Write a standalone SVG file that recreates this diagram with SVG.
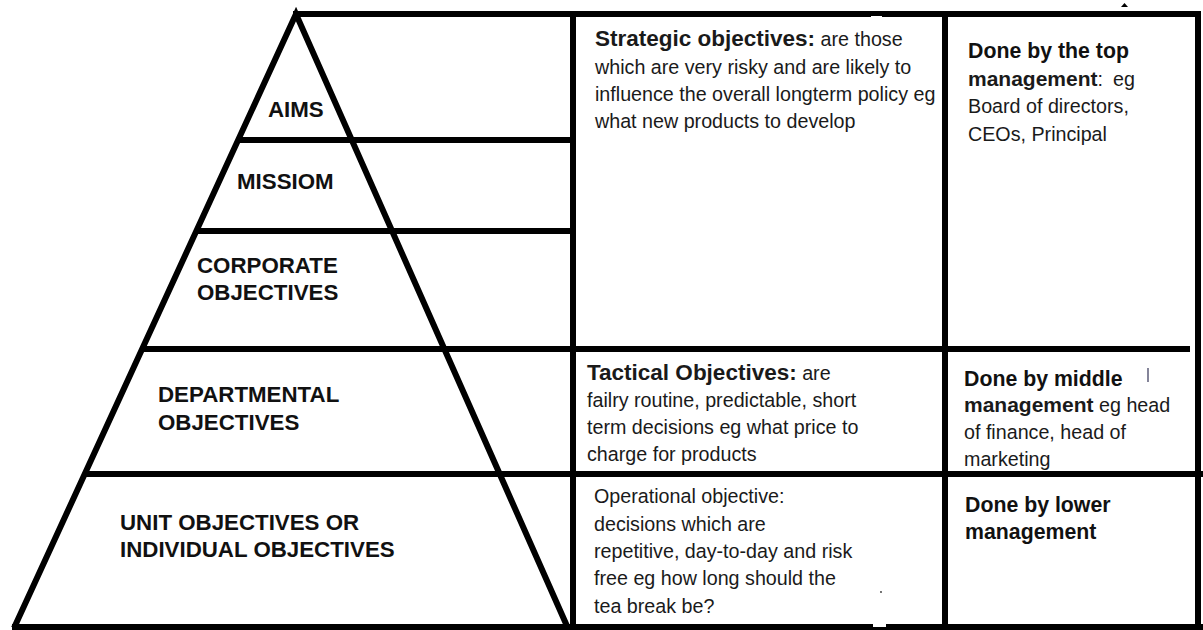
<svg xmlns="http://www.w3.org/2000/svg" width="1203" height="630" viewBox="0 0 1203 630">
<style>
.ln{stroke:#000;stroke-width:6;fill:none;stroke-linecap:butt;stroke-linejoin:miter}
.lvl{font-family:"Liberation Sans",Arial,sans-serif;font-weight:bold;font-size:22.3px;fill:#111}
.tx{font-family:"Liberation Sans",Arial,sans-serif;font-size:19.7px;fill:#1a1a1a}
.b{font-weight:bold}
.ch{font-weight:bold;font-size:22.5px}
.hd{font-family:"Liberation Sans",Arial,sans-serif;font-size:21.3px;font-weight:bold;fill:#111}
</style>
<rect width="1203" height="630" fill="#fff"/>
<g id="connectors">
  <path class="ln" d="M14,628 L296,14 L567,626"/>
  <path class="ln" d="M293,14 L1201,14"/>
  <path class="ln" d="M238,140 L573,140"/>
  <path class="ln" d="M196,231 L573,231"/>
  <path class="ln" d="M141,349 L1190,349" stroke-linecap="round"/>
  <path class="ln" d="M86,474 L1203,474"/>
  <path class="ln" d="M12,627 L1203,627"/>
  <path class="ln" d="M573,14 L573,630"/>
  <path class="ln" d="M945,14 L945,630"/>
  <path class="ln" d="M1198,11 L1198,630"/>
</g>
<g id="marks">
  <rect x="871" y="16" width="11" height="5" fill="#fff"/>
  <rect x="876" y="352" width="12" height="4" fill="#fff"/>
  <rect x="873" y="623" width="13" height="4" fill="#fff"/>
  <path d="M1121,7 L1124.5,3 L1128,7 Z" fill="#000"/>
  <circle cx="881" cy="592" r="0.9" fill="#333"/>
  <line x1="1148" y1="368" x2="1148" y2="382" stroke="#335" stroke-width="1.2"/>
</g>
<g id="level-aims"><text class="lvl" x="268" y="117">AIMS</text></g>
<g id="level-mission"><text class="lvl" x="237" y="189">MISSIOM</text></g>
<g id="level-corporate"><text class="lvl" x="197" y="273">CORPORATE</text><text class="lvl" x="197" y="300">OBJECTIVES</text></g>
<g id="level-departmental"><text class="lvl" x="158" y="402">DEPARTMENTAL</text><text class="lvl" x="158" y="430">OBJECTIVES</text></g>
<g id="level-unit"><text class="lvl" x="120" y="530">UNIT OBJECTIVES OR</text><text class="lvl" x="120" y="557">INDIVIDUAL OBJECTIVES</text></g>
<g id="strategic">
  <text class="tx" x="595" y="46"><tspan class="ch">Strategic objectives:</tspan> are those</text>
  <text class="tx" x="595" y="74">which are very risky and are likely to</text>
  <text class="tx" x="595" y="101">influence the overall longterm policy eg</text>
  <text class="tx" x="595" y="128">what new products to develop</text>
</g>
<g id="top-management">
  <text class="hd" x="968" y="58">Done by the top</text>
  <text class="tx" x="968" y="86"><tspan class="b" font-size="21">management</tspan>:<tspan dx="10">eg</tspan></text>
  <text class="tx" x="968" y="113">Board of directors,</text>
  <text class="tx" x="968" y="141">CEOs, Principal</text>
</g>
<g id="tactical">
  <text class="tx" x="587" y="380"><tspan class="ch">Tactical Objectives:</tspan> are</text>
  <text class="tx" x="587" y="407">failry routine, predictable, short</text>
  <text class="tx" x="587" y="434">term decisions eg what price to</text>
  <text class="tx" x="587" y="461">charge for products</text>
</g>
<g id="middle-management">
  <text class="hd" x="964" y="386">Done by middle</text>
  <text class="tx" x="964" y="412"><tspan class="b" font-size="21">management</tspan> eg head</text>
  <text class="tx" x="964" y="439">of finance, head of</text>
  <text class="tx" x="964" y="466">marketing</text>
</g>
<g id="operational">
  <text class="tx" x="594" y="503">Operational objective:</text>
  <text class="tx" x="594" y="531">decisions which are</text>
  <text class="tx" x="594" y="558">repetitive, day-to-day and risk</text>
  <text class="tx" x="594" y="585">free eg how long should the</text>
  <text class="tx" x="594" y="613">tea break be?</text>
</g>
<g id="lower-management">
  <text class="hd" x="965" y="512">Done by lower</text>
  <text class="hd" x="965" y="539">management</text>
</g>
</svg>
